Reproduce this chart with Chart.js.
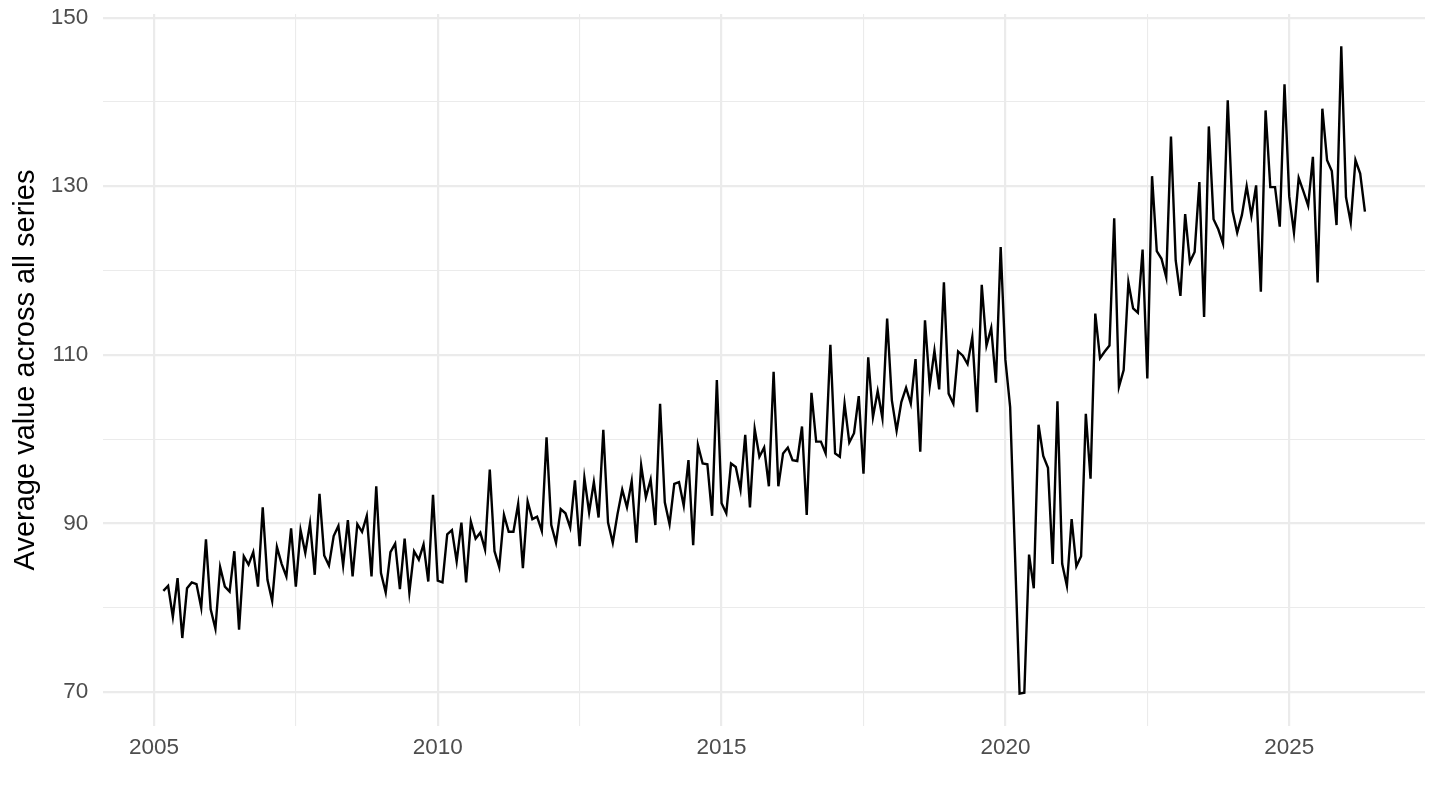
<!DOCTYPE html>
<html lang="en">

<head>
    <meta charset="UTF-8">
    <title>Average value across all series</title>
    <style>
        body { margin: 0; background: #ffffff; }
        #grafico { display: block; }
    </style>
</head>

<body>
    <canvas id="grafico" width="1440" height="810"></canvas>

    <script src="https://cdn.jsdelivr.net/npm/chart.js"></script>

    <script>
        // first observation: March 2005, one value per month
        const startYear = 2005;
        const startMonth = 3;

        const values = [
            82.0, 82.6, 78.9, 83.5, 76.4, 82.3, 83.0, 82.8, 80.0, 88.1,
            79.8, 77.5, 84.8, 82.5, 81.9, 86.7, 77.4, 86.1, 85.1, 86.6,
            82.5, 91.9, 83.3, 80.8, 87.2, 85.2, 83.7, 89.4, 82.5, 89.2,
            86.5, 90.0, 83.9, 93.5, 86.2, 85.0, 88.5, 89.7, 85.0, 90.4,
            83.7, 89.9, 89.0, 90.9, 83.7, 94.4, 84.1, 81.8, 86.6, 87.6,
            82.2, 88.2, 81.8, 86.7, 85.7, 87.5, 83.1, 93.4, 83.2, 83.0,
            88.7, 89.2, 85.5, 90.1, 83.0, 90.2, 88.2, 88.9, 86.9, 96.4,
            86.7, 84.8, 91.0, 89.0, 89.0, 92.3, 84.7, 92.6, 90.5, 90.8,
            89.1, 100.2, 89.8, 87.7, 91.7, 91.2, 89.5, 95.1, 87.3, 95.4,
            91.3, 94.9, 90.7, 101.1, 90.1, 87.7, 91.1, 94.0, 91.9, 95.0,
            87.7, 96.9, 93.1, 95.2, 89.8, 104.2, 92.5, 89.9, 94.7, 94.9,
            92.1, 97.5, 87.4, 99.3, 97.1, 97.0, 90.9, 107.0, 92.4, 91.2,
            97.1, 96.7, 94.0, 100.5, 91.9, 101.2, 97.9, 99.0, 94.4, 108.0,
            94.4, 98.3, 99.0, 97.5, 97.4, 101.5, 91.0, 105.5, 99.7, 99.7,
            98.3, 111.2, 98.3, 97.9, 104.2, 99.6, 100.7, 105.1, 95.9, 109.7,
            102.6, 105.7, 102.5, 114.3, 104.6, 101.0, 104.4, 106.1, 104.2, 109.5,
            98.5, 114.1, 106.3, 110.5, 105.9, 118.6, 105.4, 104.2, 110.4, 109.9,
            108.9, 112.1, 103.2, 118.3, 111.1, 113.2, 106.7, 122.8, 109.4, 103.8,
            86.8, 69.8, 69.9, 86.3, 82.3, 101.7, 98.0, 96.6, 85.2, 104.5,
            85.2, 82.6, 90.5, 84.9, 86.1, 103.0, 95.3, 114.9, 109.6, 110.4,
            111.1, 126.2, 106.2, 108.2, 118.6, 115.5, 115.0, 122.5, 107.2, 131.2,
            122.3, 121.4, 119.2, 135.9, 121.2, 117.0, 126.7, 121.0, 122.2, 130.5,
            114.5, 137.1, 126.1, 124.9, 123.2, 140.2, 127.1, 124.5, 126.6, 130.0,
            126.5, 130.1, 117.5, 139.0, 129.9, 129.9, 125.2, 142.1, 128.8, 124.5,
            131.0, 129.4, 127.7, 133.5, 118.6, 139.2, 133.1, 131.8, 125.4, 146.6,
            128.7, 125.7, 133.1, 131.5, 127.0
        ];

        const xMajorTicks = [2005, 2010, 2015, 2020, 2025];
        const xMinorTicks = [2007.5, 2012.5, 2017.5, 2022.5];
        const yMajorTicks = [70, 90, 110, 130, 150];
        const yMinorTicks = [80, 100, 120, 140];

        const yTitle = 'Average value across all series';

        // month -> decimal year
        var pontos = values.map(function (v, i) {
            return { x: startYear + (startMonth - 1 + i) / 12, y: v };
        });

        // 5% padding on both sides, like the original plot
        function expandir(min, max) {
            var d = (max - min) * 0.05;
            return [min - d, max + d];
        }
        var xs = pontos.map(p => p.x);
        var xRange = expandir(Math.min(...xs), Math.max(...xs));
        var yRange = expandir(Math.min(...values), Math.max(...values));

        var gridColor = '#ebebeb';
        var textColor = '#4d4d4d';
        var fonte = "'Liberation Sans', Arial, sans-serif";

        function largura(majors) {
            return function (ctx) {
                return ctx.tick && majors.includes(ctx.tick.value) ? 2.2 : 1.1;
            };
        }

        // chart area fixed so it lines up with the original picture
        var areaTop = 14;
        var areaBottom = 726;

        var ctx = document.getElementById('grafico').getContext('2d');

        new Chart(ctx, {
            type: 'line',
            data: {
                datasets: [{
                    data: pontos,
                    borderColor: '#000000',
                    borderWidth: 2.4,
                    pointRadius: 0,
                    tension: 0,
                    fill: false
                }]
            },
            options: {
                responsive: false,
                animation: false,
                layout: {
                    padding: { top: 0, right: 15, bottom: 0, left: 0 }
                },
                plugins: {
                    legend: { display: false },
                    tooltip: { enabled: false }
                },
                scales: {
                    x: {
                        type: 'linear',
                        min: xRange[0],
                        max: xRange[1],
                        afterBuildTicks: function (scale) {
                            scale.ticks = xMajorTicks.concat(xMinorTicks)
                                .sort((a, b) => a - b)
                                .map(v => ({ value: v }));
                        },
                        afterFit: function (scale) {
                            scale.height = 810 - areaBottom;
                        },
                        border: { display: false },
                        grid: {
                            color: gridColor,
                            lineWidth: largura(xMajorTicks),
                            drawTicks: false
                        },
                        ticks: {
                            autoSkip: false,
                            maxRotation: 0,
                            padding: 8,
                            color: textColor,
                            font: { family: fonte, size: 22.5 },
                            callback: function (v) {
                                return xMajorTicks.includes(v) ? String(v) : '';
                            }
                        }
                    },
                    y: {
                        type: 'linear',
                        min: yRange[0],
                        max: yRange[1],
                        afterBuildTicks: function (scale) {
                            scale.ticks = yMajorTicks.concat(yMinorTicks)
                                .sort((a, b) => a - b)
                                .map(v => ({ value: v }));
                        },
                        afterFit: function (scale) {
                            scale.width = 103.3;
                            scale.paddingTop = areaTop;
                            scale.paddingBottom = 0;
                        },
                        border: { display: false },
                        grid: {
                            color: gridColor,
                            lineWidth: largura(yMajorTicks),
                            drawTicks: false
                        },
                        ticks: {
                            autoSkip: false,
                            padding: 15,
                            color: textColor,
                            font: { family: fonte, size: 22.5 },
                            callback: function (v) {
                                return yMajorTicks.includes(v) ? String(v) : '';
                            }
                        },
                        title: {
                            display: true,
                            text: yTitle,
                            color: '#000000',
                            padding: { top: 9, bottom: 0 },
                            font: { family: fonte, size: 29 }
                        }
                    }
                }
            }
        });
    </script>
</body>

</html>
